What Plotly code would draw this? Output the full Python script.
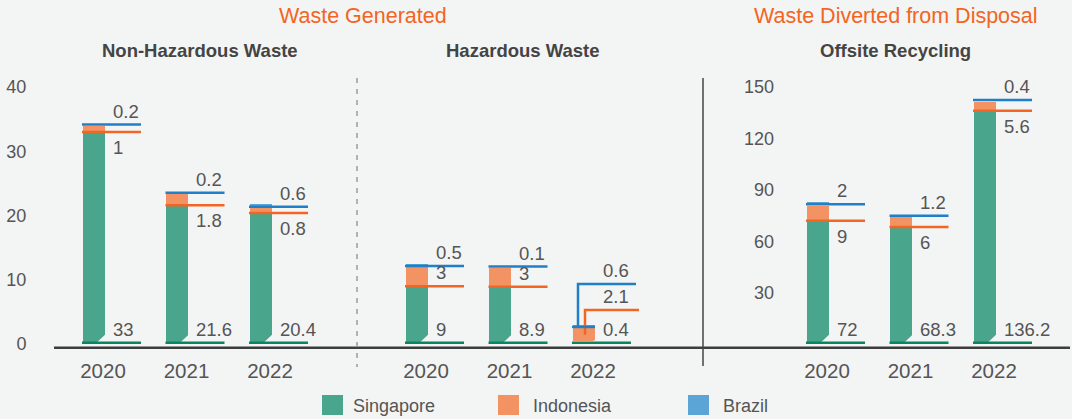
import plotly.graph_objects as go

# ---------------- data ----------------
years = ["2020", "2021", "2022"]
series_names = ["Singapore", "Indonesia", "Brazil"]

nonhaz_singapore = [33, 21.6, 20.4]
nonhaz_indonesia = [1, 1.8, 0.8]
nonhaz_brazil = [0.2, 0.2, 0.6]

haz_singapore = [9, 8.9, 0.4]
haz_indonesia = [3, 3, 2.1]
haz_brazil = [0.5, 0.1, 0.6]

recyc_singapore = [72, 68.3, 136.2]
recyc_indonesia = [9, 6, 5.6]
recyc_brazil = [2, 1.2, 0.4]

left_ticks = [0, 10, 20, 30, 40]
right_ticks = [30, 60, 90, 120, 150]

group_titles = ["Waste Generated", "Waste Diverted from Disposal"]
panel_titles = ["Non-Hazardous Waste", "Hazardous Waste", "Offsite Recycling"]

# ---------------- style ----------------
W, H = 1072, 419
BG = "#f3f4f4"
FONT = "Liberation Sans, Arial, Helvetica, sans-serif"
TXT = "#555555"
ORANGE_TITLE = "#f26522"
fill_colors = ["#49a58b", "#f39262", "#5aa4d6"]
line_colors = ["#0a8461", "#f26522", "#1f7fc8"]

U = 83.5               # px per category unit
PLOT_H = 257.0         # px from y=0 to top of y range
Y0_PX, Y1_PX = 344, 87
BAR_OFF = -21 / U
BAR_W = 23 / U
LINE_END = 38 / U
LABEL_X = 7.5 / U
LW = 2.5


def px(x):
    return x / W


def py(y):
    return 1 - y / H


panels = [
    dict(vals=[nonhaz_singapore, nonhaz_indonesia, nonhaz_brazil], ymax=40,
         dom=(55, 355), tick0=103),
    dict(vals=[haz_singapore, haz_indonesia, haz_brazil], ymax=40,
         dom=(360, 700), tick0=426),
    dict(vals=[recyc_singapore, recyc_indonesia, recyc_brazil], ymax=150,
         dom=(705, 1072), tick0=827),
]

fig = go.Figure()
annotations = []
shapes = []


def fmt(v):
    return f"{v:g}"


VAL_FONT = dict(size=18.5, color=TXT)

for k, p in enumerate(panels, start=1):
    xa = "x" if k == 1 else f"x{k}"
    ya = "y" if k == 1 else f"y{k}"
    s = PLOT_H / p["ymax"]          # px per data unit
    sg, idn, br = p["vals"]
    xs = list(range(len(years)))

    for j in range(3):
        fig.add_trace(go.Bar(
            x=xs, y=p["vals"][j], offset=BAR_OFF, width=BAR_W,
            marker=dict(color=fill_colors[j], line=dict(color=BG, width=1)),
            xaxis=xa, yaxis=ya, showlegend=False, name=series_names[j],
            hoverinfo="skip"))

    notch_x, notch_y = [], []
    gx, gy, ox, oy, bx, by = [], [], [], [], [], []
    for i in xs:
        L = i + BAR_OFF
        R = L + BAR_W
        E = i + LINE_END
        g_lvl = 1.2 / s
        notch_x += [R - 8.5 / U, R, R, None]
        notch_y += [g_lvl, g_lvl, g_lvl + min(8, sg[i] * s) / s, None]
        gx += [L, E, None]
        gy += [g_lvl, g_lvl, None]

        o_base = sg[i] * s
        o_px = max(o_base, 34)
        o_elev = o_px > o_base + 0.5
        id_above = (idn[i] * s >= 18) or o_elev
        b_base = (sg[i] + idn[i]) * s + 1
        b_min = o_px + (26 if o_elev else (19 if id_above else 5))
        b_px = max(b_base, b_min)
        b_elev = b_px > b_base + 2

        if o_elev:
            mid = (sg[i] + idn[i] / 2)
            ox += [L + 13 / U, L + 13 / U, L + 67 / U, None]
            oy += [mid, o_px / s, o_px / s, None]
            o_end_lvl = o_px / s
        else:
            ox += [L, E, None]
            oy += [o_base / s, o_base / s, None]
            o_end_lvl = o_base / s
        if b_elev:
            bb = b_base / s
            bx += [L, R, None, L + 6 / U, L + 6 / U, L + 64 / U, None]
            by += [bb, bb, None, bb, b_px / s, b_px / s, None]
            b_end_lvl = b_px / s
        else:
            bx += [L, E, None]
            by += [b_base / s, b_base / s, None]
            b_end_lvl = b_base / s

        lx = i + LABEL_X
        annotations.append(dict(x=lx, y=g_lvl, xref=xa, yref=ya, text=fmt(sg[i]),
                                xanchor="left", yanchor="bottom", yshift=1,
                                showarrow=False, font=VAL_FONT))
        if id_above:
            annotations.append(dict(x=lx, y=o_end_lvl, xref=xa, yref=ya, text=fmt(idn[i]),
                                    xanchor="left", yanchor="bottom", yshift=1,
                                    showarrow=False, font=VAL_FONT))
        else:
            annotations.append(dict(x=lx, y=o_end_lvl, xref=xa, yref=ya, text=fmt(idn[i]),
                                    xanchor="left", yanchor="top", yshift=-3,
                                    showarrow=False, font=VAL_FONT))
        annotations.append(dict(x=lx, y=b_end_lvl, xref=xa, yref=ya, text=fmt(br[i]),
                                xanchor="left", yanchor="bottom", yshift=1,
                                showarrow=False, font=VAL_FONT))

    fig.add_trace(go.Scatter(x=notch_x, y=notch_y, mode="lines", fill="toself",
                             fillcolor=BG, line=dict(width=0, color=BG),
                             xaxis=xa, yaxis=ya, showlegend=False, hoverinfo="skip",
                             cliponaxis=False))
    for (lxs, lys, col) in [(gx, gy, line_colors[0]), (ox, oy, line_colors[1]),
                            (bx, by, line_colors[2])]:
        fig.add_trace(go.Scatter(x=lxs, y=lys, mode="lines",
                                 line=dict(color=col, width=LW),
                                 xaxis=xa, yaxis=ya, showlegend=False,
                                 hoverinfo="skip", cliponaxis=False))

YD = [py(Y0_PX), py(Y1_PX)]


def xaxis_cfg(p, anchor):
    d0, d1 = p["dom"]
    return dict(domain=[px(d0), px(d1)],
                range=[(d0 - p["tick0"]) / U, (d1 - p["tick0"]) / U],
                tickvals=list(range(len(years))), ticktext=years,
                showgrid=False, zeroline=False, showline=False, automargin=False,
                ticks="outside", ticklen=8, tickcolor="rgba(0,0,0,0)",
                tickfont=dict(size=20.5, color=TXT), anchor=anchor, fixedrange=True)


layout_axes = dict(
    xaxis=xaxis_cfg(panels[0], "y"),
    xaxis2=xaxis_cfg(panels[1], "y2"),
    xaxis3=xaxis_cfg(panels[2], "y3"),
    yaxis=dict(domain=YD, range=[0, 40], tickvals=left_ticks, showgrid=False,
               zeroline=False, showline=False, automargin=False, ticks="outside",
               ticklen=24, tickcolor="rgba(0,0,0,0)",
               tickfont=dict(size=18, color=TXT), anchor="x", fixedrange=True),
    yaxis2=dict(domain=YD, range=[0, 40], showticklabels=False, showgrid=False,
                zeroline=False, showline=False, automargin=False, ticks="",
                anchor="x2", fixedrange=True),
    yaxis3=dict(domain=YD, range=[0, 150], tickvals=right_ticks, showgrid=False,
                zeroline=False, showline=False, automargin=False, ticks="",
                anchor="free", position=px(774), tickfont=dict(size=18, color=TXT),
                fixedrange=True),
)

# dividers and baseline
shapes.append(dict(type="line", xref="paper", yref="paper", x0=px(54), x1=px(1070),
                   y0=py(347.8), y1=py(347.8), line=dict(color="#3d3d3d", width=2.5)))
shapes.append(dict(type="line", xref="paper", yref="paper", x0=px(357), x1=px(357),
                   y0=py(78), y1=py(367),
                   line=dict(color="#9a9a9a", width=1.5, dash="5px,6px")))
shapes.append(dict(type="line", xref="paper", yref="paper", x0=px(703), x1=px(703),
                   y0=py(78), y1=py(366), line=dict(color="#444444", width=1.5)))

# titles
for t, cx in zip(group_titles, [363, 896]):
    annotations.append(dict(text=t, x=px(cx), y=py(15.5), xref="paper", yref="paper",
                            xanchor="center", yanchor="middle", showarrow=False,
                            font=dict(size=21.5, color=ORANGE_TITLE)))
for t, cx in zip(panel_titles, [200, 523, 895]):
    annotations.append(dict(text=f"<b>{t}</b>", x=px(cx), y=py(50.3), xref="paper",
                            yref="paper", xanchor="center", yanchor="middle",
                            showarrow=False, font=dict(size=18.5, color="#444444")))

# legend
legend_sq_x = [322, 498, 688]
legend_txt_x = [350.5, 530.5, 721]
for j, name in enumerate(series_names):
    shapes.append(dict(type="rect", xref="paper", yref="paper",
                       x0=px(legend_sq_x[j]), x1=px(legend_sq_x[j] + 21),
                       y0=py(415), y1=py(395), fillcolor=fill_colors[j],
                       line=dict(width=0)))
    annotations.append(dict(text=name, x=px(legend_txt_x[j]), y=py(405.5),
                            xref="paper", yref="paper", xanchor="left",
                            yanchor="middle", showarrow=False,
                            font=dict(size=18, color=TXT)))

fig.update_layout(
    template="none",
    width=W, height=H, autosize=False,
    margin=dict(l=0, r=0, t=0, b=0, pad=0, autoexpand=False),
    paper_bgcolor=BG, plot_bgcolor=BG,
    barmode="stack", bargap=0,
    font=dict(family=FONT, color=TXT),
    showlegend=False,
    annotations=annotations, shapes=shapes,
    **layout_axes,
)

fig.write_html("out.html",
               config={"displayModeBar": False, "staticPlot": True},
               post_script="document.body.style.margin='0';"
                           "document.body.style.background='" + BG + "';")
